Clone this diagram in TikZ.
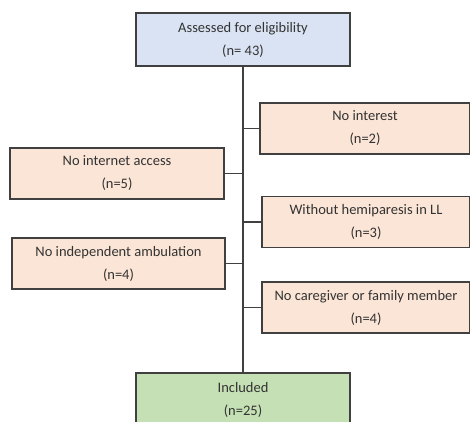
\documentclass[tikz,border=0pt]{standalone}
\usepackage{fontspec}
\setmainfont{Carlito}
\definecolor{boxblue}{HTML}{DAE3F3}
\definecolor{boxpeach}{HTML}{FBE5D6}
\definecolor{boxgreen}{HTML}{C5E0B4}
\definecolor{linegray}{HTML}{404040}
\begin{document}
\begin{tikzpicture}[x=1pt,y=-1pt,
	flowbox/.style={draw=linegray,line width=1.2pt,minimum height=51pt,align=center,text=black!80,font=\fontsize{14.5}{23}\selectfont,inner sep=0pt},
	mainbox/.style={flowbox,minimum width=214pt,minimum height=53pt},
	sidebox/.style={flowbox,fill=boxpeach,minimum width=210pt},
	link/.style={draw=linegray,line width=1.2pt}]
	\useasboundingbox (0,0) rectangle (470,421);
	
	\node[mainbox,fill=boxblue] (assessed) at (243,39.5){Assessed for eligibility\\(n= 43)};
	
	\node[sidebox] (interest) at (365,128.5){No interest\\(n=2)};
	\node[sidebox,minimum width=214pt] (internet) at (117,173.5){No internet access\\(n=5)};
	\node[sidebox,minimum width=208pt] (hemi) at (366,222){Without hemiparesis in LL\\(n=3)};
	\node[sidebox,minimum width=213pt] (ambul) at (118.5,263.5){No independent ambulation\\(n=4)};
	\node[sidebox,minimum width=208pt] (carer) at (366,307.5){No caregiver or family member\\(n=4)};
	
	\node[mainbox,fill=boxgreen] (included) at (243,399.5){Included\\(n=25)};
	
	\draw[link] (assessed.south) -- (included.north);
	\draw[link] (interest.west) -- (interest.west -| assessed.south);
	\draw[link] (internet.east) -- (internet.east -| assessed.south);
	\draw[link] (hemi.west) -- (hemi.west -| assessed.south);
	\draw[link] (ambul.east) -- (ambul.east -| assessed.south);
	\draw[link] (carer.west) -- (carer.west -| assessed.south);
\end{tikzpicture}
\end{document}
